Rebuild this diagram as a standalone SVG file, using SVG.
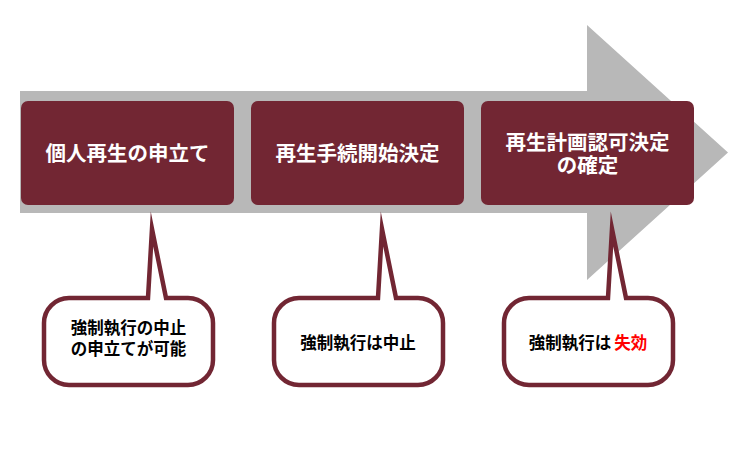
<svg xmlns="http://www.w3.org/2000/svg" width="750" height="450" viewBox="0 0 750 450">
<style>
.step{fill:#722633;}
.steptxt{fill:#ffffff;font-family:"Liberation Sans","Noto Sans CJK JP",sans-serif;font-weight:bold;font-size:20.5px;text-anchor:middle;dominant-baseline:central;}
.callout{fill:#ffffff;stroke:#722633;stroke-width:4.5;stroke-linejoin:miter;stroke-miterlimit:30;}
.ctxt{fill:#000000;font-family:"Liberation Sans","Noto Sans CJK JP",sans-serif;font-weight:bold;font-size:16.5px;text-anchor:middle;dominant-baseline:central;}
.red{fill:#ff0000;}
</style>
<rect width="750" height="450" fill="#ffffff"/>
<g id="arrow">
<polygon points="20,91 587,91 587,25 728,152.5 587,280 587,213 20,213" fill="#b8b8b8"/>
</g>
<g id="step1">
<rect class="step" x="21" y="101" width="213" height="104" rx="7"/>
<text class="steptxt" x="127.5" y="153">個人再生の申立て</text>
</g>
<g id="step2">
<rect class="step" x="251" y="101" width="213" height="104" rx="7"/>
<text class="steptxt" x="357.5" y="153">再生手続開始決定</text>
</g>
<g id="step3">
<rect class="step" x="481" y="101" width="213" height="104" rx="7"/>
<text class="steptxt" x="587.5" y="142">再生計画認可決定</text>
<text class="steptxt" x="587.5" y="165">の確定</text>
</g>
<g id="connectors"></g>
<g id="callout1">
<path class="callout" d="M69,298 L148,298 L152,229 L166,298 L188,298 A25,25 0 0 1 213,323 L213,360 A25,25 0 0 1 188,385 L69,385 A25,25 0 0 1 44,360 L44,323 A25,25 0 0 1 69,298 Z"/>
<text class="ctxt" x="128.5" y="328">強制執行の中止</text>
<text class="ctxt" x="128.5" y="349">の申立てが可能</text>
</g>
<g id="callout2">
<path class="callout" d="M299,298 L378,298 L382,229 L396,298 L418,298 A25,25 0 0 1 443,323 L443,360 A25,25 0 0 1 418,385 L299,385 A25,25 0 0 1 274,360 L274,323 A25,25 0 0 1 299,298 Z"/>
<text class="ctxt" x="358" y="343">強制執行は中止</text>
</g>
<g id="callout3">
<path class="callout" d="M529,298 L608,298 L612,229 L626,298 L648,298 A25,25 0 0 1 673,323 L673,360 A25,25 0 0 1 648,385 L529,385 A25,25 0 0 1 504,360 L504,323 A25,25 0 0 1 529,298 Z"/>
<text class="ctxt" x="588" y="343">強制執行は<tspan class="red" dx="3">失効</tspan></text>
</g>
</svg>
